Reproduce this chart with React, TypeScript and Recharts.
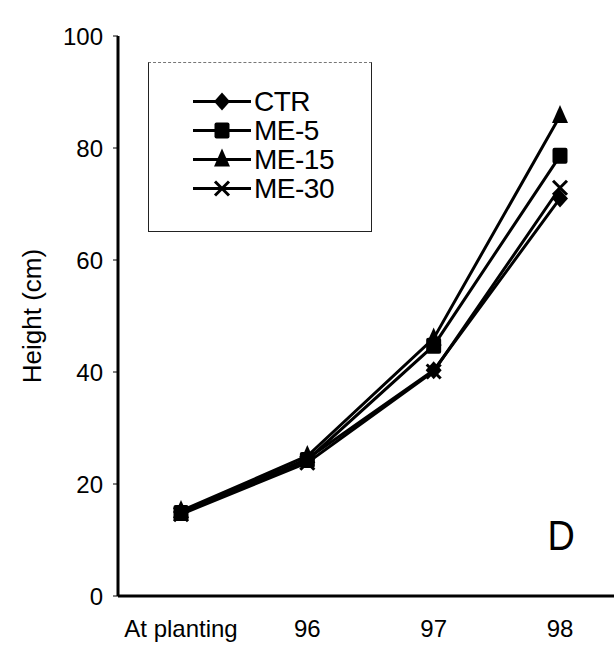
import { Legend, Line, LineChart, XAxis, YAxis } from 'recharts'

const categories = ['At planting', '96', '97', '98']
const ctr = [15, 24.5, 40.3, 71]
const me5 = [14.8, 24.3, 44.7, 78.6]
const me15 = [15.2, 25, 46, 85.7]
const me30 = [14.6, 23.8, 40.1, 72.9]
const yTicks = [0, 20, 40, 60, 80, 100]

type Shape = 'diamond' | 'square' | 'triangle' | 'cross'

const series: { name: string; values: number[]; shape: Shape }[] = [
  { name: 'CTR', values: ctr, shape: 'diamond' },
  { name: 'ME-5', values: me5, shape: 'square' },
  { name: 'ME-15', values: me15, shape: 'triangle' },
  { name: 'ME-30', values: me30, shape: 'cross' },
]

const data = categories.map((name, i) => {
  const row: Record<string, string | number> = { name }
  series.forEach((s) => {
    row[s.name] = s.values[i]
  })
  return row
})

const FONT = 'Arial, "Liberation Sans", sans-serif'
const INK = '#000'

function Marker({ shape, cx, cy }: { shape: Shape; cx: number; cy: number }) {
  switch (shape) {
    case 'diamond':
      return (
        <polygon
          points={`${cx},${cy - 9} ${cx + 8},${cy} ${cx},${cy + 9} ${cx - 8},${cy}`}
          fill={INK}
        />
      )
    case 'square':
      return <rect x={cx - 7.5} y={cy - 8} width={15} height={16} rx={2} fill={INK} />
    case 'triangle':
      return (
        <polygon
          points={`${cx},${cy - 11} ${cx + 8},${cy + 7} ${cx - 8},${cy + 7}`}
          fill={INK}
        />
      )
    default:
      return (
        <g stroke={INK} strokeWidth={3}>
          <line x1={cx - 7} y1={cy - 7} x2={cx + 7} y2={cy + 7} />
          <line x1={cx - 7} y1={cy + 7} x2={cx + 7} y2={cy - 7} />
        </g>
      )
  }
}

function renderDot(shape: Shape) {
  return (props: any) => {
    const { cx, cy, index } = props
    if (cx == null || cy == null) return <g key={index} />
    return (
      <g key={`${shape}-${index}`}>
        <Marker shape={shape} cx={cx} cy={cy} />
      </g>
    )
  }
}

function LegendBox() {
  return (
    <div
      style={{
        width: 224,
        height: 170,
        boxSizing: 'border-box',
        borderTop: '1px dashed #777',
        borderLeft: '1px solid #222',
        borderRight: '1px solid #222',
        borderBottom: '1px solid #222',
        paddingTop: 24,
        paddingLeft: 44,
        fontFamily: FONT,
        fontSize: 28,
        lineHeight: '29px',
        color: INK,
      }}
    >
      {series.map((s) => (
        <div key={s.name} style={{ display: 'flex', alignItems: 'center', height: 29 }}>
          <svg width={60} height={29} style={{ display: 'block' }}>
            <line x1={0} y1={14.5} x2={58} y2={14.5} stroke={INK} strokeWidth={3} />
            <Marker shape={s.shape} cx={29} cy={14.5} />
          </svg>
          <span style={{ marginLeft: 1, letterSpacing: -0.5 }}>{s.name}</span>
        </div>
      ))}
    </div>
  )
}

function YTitle(props: any) {
  const { viewBox } = props
  const x = viewBox.x + 32
  const y = viewBox.y + viewBox.height / 2
  return (
    <text
      x={x}
      y={y}
      transform={`rotate(-90 ${x} ${y})`}
      textAnchor="middle"
      dominantBaseline="central"
      fontFamily={FONT}
      fontSize={26}
      fill={INK}
    >
      Height (cm)
    </text>
  )
}

export default function App() {
  return (
    <div
      style={{
        position: 'fixed',
        left: 0,
        top: 0,
        width: 614,
        height: 647,
        overflow: 'hidden',
        background: '#fff',
      }}
    >
      <LineChart
        width={640}
        height={647}
        data={data}
        margin={{ top: 36, right: 24, bottom: 0, left: 0 }}
      >
        <XAxis
          dataKey="name"
          height={51}
          padding={{ left: 63, right: 56 }}
          axisLine={{ stroke: INK, strokeWidth: 3 }}
          tickLine={false}
          tickSize={0}
          tickMargin={24}
          tick={{ fill: INK, fontSize: 24, fontFamily: FONT }}
          interval={0}
        />
        <XAxis
          xAxisId="top"
          orientation="top"
          dataKey="name"
          height={0}
          tick={false}
          tickLine={false}
          axisLine={{ stroke: INK, strokeWidth: 2.5 }}
        />
        <YAxis
          width={118}
          domain={[0, 100]}
          ticks={yTicks}
          tickSize={5}
          tickMargin={10}
          axisLine={{ stroke: INK, strokeWidth: 3 }}
          tickLine={{ stroke: INK, strokeWidth: 1 }}
          tick={{ fill: INK, fontSize: 24, fontFamily: FONT }}
          label={<YTitle />}
        />
        <Legend
          layout="vertical"
          align="center"
          verticalAlign="middle"
          wrapperStyle={{ left: 148, top: 62, width: 224, height: 170 }}
          content={() => <LegendBox />}
        />
        {series.map((s) => (
          <Line
            key={s.name}
            dataKey={s.name}
            stroke={INK}
            strokeWidth={3}
            type="linear"
            dot={renderDot(s.shape)}
            activeDot={false}
            isAnimationActive={false}
          />
        ))}
      </LineChart>
      <div
        style={{
          position: 'absolute',
          left: 546,
          top: 515,
          fontFamily: FONT,
          fontSize: 42,
          lineHeight: '42px',
          color: INK,
          transform: 'scaleX(0.9)',
        }}
      >
        D
      </div>
    </div>
  )
}
